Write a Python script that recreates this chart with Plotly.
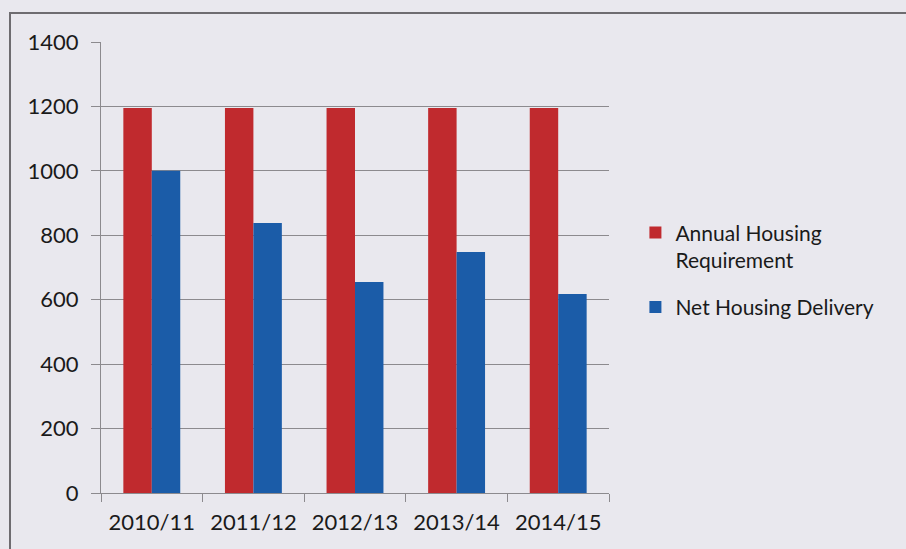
import plotly.graph_objects as go

categories = ["2010/11", "2011/12", "2012/13", "2013/14", "2014/15"]
annual_requirement = [1195, 1195, 1195, 1195, 1195]
net_delivery = [1000, 838, 655, 748, 618]
y_ticks = [0, 200, 400, 600, 800, 1000, 1200, 1400]

RED = "#C02A2E"
BLUE = "#1B5CA8"
BG = "#E9E8EE"
GRID = "#8C8A8E"
FONT = "Lato, 'Open Sans', sans-serif"

fig = go.Figure()
fig.add_trace(go.Bar(x=categories, y=annual_requirement, name="Annual Housing<br>Requirement",
                     legendgroup="a",
                     marker=dict(color=RED, line=dict(width=0))))
fig.add_trace(go.Bar(x=categories, y=net_delivery, name="Net Housing Delivery",
                     legendgroup="b",
                     marker=dict(color=BLUE, line=dict(width=0))))

fig.update_layout(
    width=906, height=549,
    margin=dict(l=101, r=297, t=42, b=56),
    paper_bgcolor=BG, plot_bgcolor=BG,
    barmode="group", bargap=0.44, bargroupgap=0,
    font=dict(family=FONT, size=22, color="#1a1a1a"),
    showlegend=True,
    legend=dict(x=1.052, y=0.495, xanchor="left", yanchor="middle",
                bgcolor="rgba(0,0,0,0)", font=dict(size=21),
                traceorder="grouped", tracegroupgap=17, itemwidth=30, valign="top"),
    xaxis=dict(showline=True, linecolor=GRID, linewidth=1,
               ticks="outside", tickson="boundaries", ticklen=8, tickcolor=GRID,
               showgrid=False, tickfont=dict(size=22), ticklabelstandoff=10),
    yaxis=dict(range=[0, 1400], tickvals=y_ticks, showline=True, linecolor=GRID, linewidth=1,
               ticks="outside", ticklen=9, tickcolor=GRID,
               showgrid=True, gridcolor=GRID, gridwidth=1, zeroline=False,
               tickfont=dict(size=22), ticklabelstandoff=8),
    shapes=[dict(type="rect", xref="paper", yref="paper",
                 x0=(10 - 101) / 508, x1=1.62, y0=-0.16, y1=(493 - 13) / 451,
                 line=dict(color="#6E6C70", width=2), fillcolor="rgba(0,0,0,0)", layer="below")],
)

fig.write_html("out.html")
